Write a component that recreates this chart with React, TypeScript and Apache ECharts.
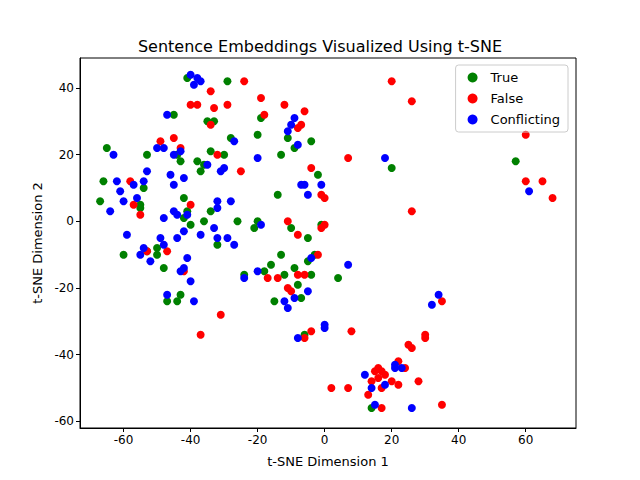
import React, { useEffect, useRef } from "react";
import * as echarts from "echarts";

const xTicks = [-60, -40, -20, 0, 20, 40, 60];
const yTicks = [-60, -40, -20, 0, 20, 40];

const trueData: number[][] = [
  [-65,22],[-66,12],[-67,6],[-60,-10],[-55,5],[-55,4],[-54,10],[-53,20],[-53,-9],[-50,-10],[-48,-14],[-45,32],[-44,-24],[-43,-22],[-44,20],[-43,18],[-42,7],[-42,1],[-41,3],[-40,-1],[-38,18],[-37,15],[-36,17],[-36,0],[-34,21],[-34,3],[-33,30],[-32,-7],[-30,20],[-29,42],[-28,25],[-26,0],[-24,-16],[-21,-2],[-20,26],[-20,0],[-19,31],[-16,-13],[-15,-24],[-14,8],[-13,20],[-12,-16],[-11,25],[-10,-2],[-9,-14],[-8,-19],[-7,-23],[-6,-34],[-5,-12],[-4,24],[-3,-10],[-2,14],[-1,-1],[-4,-16],[-5,-5],[4,-17],[14,-56],[57,18],[20,16],[-47,-24],[-50,-8],[-41,43],[-35,30],[-18,-15],[-9,22],[-13,-10]
];
const falseData: number[][] = [
  [-58,12],[-57,5],[-55,2],[-49,24],[-47,-9],[-45,25],[-43,22],[-40,35],[-40,5],[-38,35],[-37,-34],[-34,39],[-34,29],[-33,34],[-32,20],[-31,-28],[-29,35],[-24,42],[-25,15],[-19,37],[-18,32],[-17,-17],[-14,-17],[-12,35],[-11,0],[-11,-20],[-10,-21],[-8,-4],[-8,28],[-7,29],[-6,33],[-8,-16],[-6,-16],[-6,-35],[-4,16],[-4,-33],[-2,-10],[-1,8],[0,7],[-1,-2],[0,-1],[7,19],[8,-33],[2,-50],[7,-50],[13,-52],[14,-48],[15,-45],[16,-44],[17,-45],[16,-47],[18,-46],[17,-50],[20,-48],[22,-49],[22,-42],[24,-44],[25,-37],[26,-38],[28,-48],[30,-34],[30,-35],[35,-24],[35,-55],[17,-56],[20,42],[26,36],[26,3],[60,26],[60,12],[65,12],[68,7],[-42,-15],[-53,-9]
];
const conflictingData: number[][] = [
  [-63,20],[-64,3],[-62,12],[-61,9],[-60,6],[-59,-4],[-57,11],[-56,7],[-55,-10],[-54,-8],[-54,12],[-53,15],[-52,-12],[-50,22],[-49,-5],[-48,-7],[-48,1],[-48,22],[-47,-22],[-47,32],[-46,14],[-45,11],[-45,3],[-45,20],[-44,-5],[-44,2],[-43,-15],[-43,21],[-42,-14],[-42,-3],[-42,13],[-41,-11],[-40,-18],[-41,2],[-39,-24],[-40,44],[-39,41],[-38,43],[-37,42],[-37,-4],[-35,17],[-33,-2],[-32,4],[-32,6],[-32,-5],[-31,15],[-30,16],[-29,-5],[-28,6],[-27,-7],[-27,24],[-24,-17],[-20,19],[-20,-15],[-19,-1],[-12,-24],[-11,27],[-11,-26],[-10,29],[-9,31],[-8,23],[-9,-23],[-8,-35],[-7,11],[-6,11],[-5,8],[-5,-21],[-4,-11],[-1,11],[0,-31],[0,-32],[7,-13],[12,-46],[14,-50],[15,-55],[18,-49],[18,19],[21,-43],[21,-44],[26,-56],[32,-25],[34,-22],[23,-44],[61,9]
];

const font = "DejaVu Sans";

export default function App() {
  const ref = useRef<HTMLDivElement>(null);
  useEffect(() => {
    const chart = echarts.init(ref.current!, null, { renderer: "svg" });
    const axisCommon = {
      axisLine: { show: true, onZero: false, lineStyle: { color: "#000" } },
      axisTick: { show: true, inside: false, length: 4, lineStyle: { color: "#000" } },
      splitLine: { show: false },
      nameLocation: "middle" as const,
      nameTextStyle: { color: "#000", fontSize: 13, fontFamily: font },
    };
    const mk = (name: string, color: string, data: number[][]) => ({
      name, type: "scatter", data, symbolSize: 8,
      itemStyle: { color, opacity: 1 },
    });
    chart.setOption({
      animation: false,
      backgroundColor: "#fff",
      title: {
        text: "Sentence Embeddings Visualized Using t-SNE",
        left: "center", top: 33,
        textStyle: { fontSize: 16, fontWeight: "normal", color: "#000", fontFamily: font },
      },
      legend: {
        orient: "vertical", right: 72, top: 65,
        itemWidth: 10, itemHeight: 10, icon: "circle", itemGap: 8,
        borderColor: "#ccc", borderWidth: 1, borderRadius: 3, padding: [6, 8, 6, 12],
        textStyle: { fontSize: 13, color: "#000", fontFamily: font, padding: [0, 0, 0, 8] },
        data: ["True", "False", "Conflicting"],
      },
      grid: { left: 80, right: 64, top: 58, bottom: 52, show: true, borderColor: "#000", borderWidth: 1 },
      xAxis: {
        type: "value", min: -73, max: 75, name: "t-SNE Dimension 1", nameGap: 27,
        ...axisCommon,
        axisTick: { ...axisCommon.axisTick, customValues: xTicks },
        axisLabel: { customValues: xTicks, color: "#000", fontSize: 12, fontFamily: font, margin: 6 },
      },
      yAxis: {
        type: "value", min: -62, max: 49, name: "t-SNE Dimension 2", nameGap: 36,
        ...axisCommon,
        axisTick: { ...axisCommon.axisTick, customValues: yTicks },
        axisLabel: { customValues: yTicks, color: "#000", fontSize: 12, fontFamily: font, margin: 6 },
      },
      series: [
        mk("True", "green", trueData),
        mk("False", "red", falseData),
        mk("Conflicting", "blue", conflictingData),
      ],
    });
    return () => chart.dispose();
  }, []);
  return <div ref={ref} style={{ width: 640, height: 480, position: "absolute", left: 0, top: 0 }} />;
}
